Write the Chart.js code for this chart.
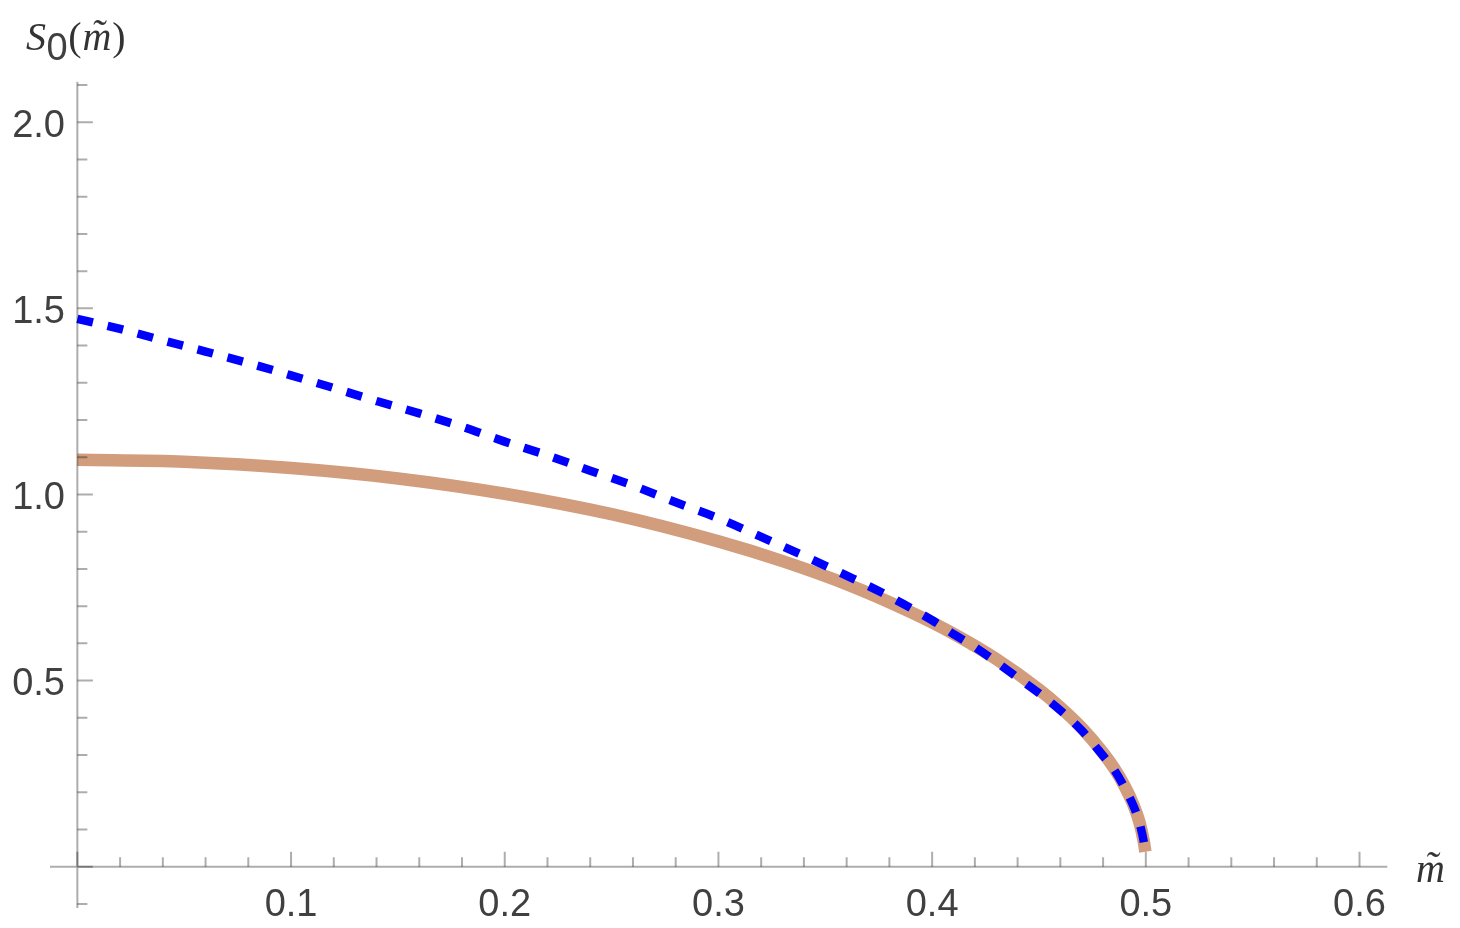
<!DOCTYPE html>
<html>
<head>
<meta charset="utf-8">
<script src="https://cdn.jsdelivr.net/npm/chart.js@4/dist/chart.umd.min.js"></script>
<style>
  html, body { margin: 0; padding: 0; background: #ffffff; }
  #wrap { width: 1460px; height: 928px; }
</style>
</head>
<body>
<div id="wrap"><canvas id="c" width="1460" height="928"></canvas></div>
<script>
// ---- data ----
const mOrange = [0, 0.05, 0.1, 0.15, 0.2, 0.25, 0.3, 0.33, 0.36, 0.39, 0.41, 0.43, 0.45, 0.46, 0.47, 0.48, 0.485, 0.49, 0.494, 0.497, 0.499, 0.4998];
const sOrange = [1.093, 1.088, 1.071, 1.043, 1.002, 0.947, 0.874, 0.821, 0.759, 0.684, 0.626, 0.558, 0.476, 0.428, 0.373, 0.306, 0.266, 0.2175, 0.169, 0.120, 0.069, 0.04];

const mBlue = [0, 0.02, 0.04, 0.06, 0.08, 0.10, 0.12, 0.14, 0.16, 0.18, 0.20, 0.22, 0.24, 0.26, 0.28, 0.30, 0.32, 0.34, 0.36, 0.38, 0.40, 0.41, 0.42, 0.43, 0.44, 0.45, 0.46, 0.47, 0.48, 0.485, 0.49, 0.494, 0.497, 0.499, 0.4998];
const sBlue = [1.472, 1.445, 1.414, 1.384, 1.353, 1.320, 1.286, 1.251, 1.218, 1.182, 1.142, 1.105, 1.064, 1.024, 0.979, 0.936, 0.886, 0.835, 0.782, 0.726, 0.662, 0.625, 0.59, 0.55, 0.508, 0.466, 0.42, 0.366, 0.298, 0.262, 0.213, 0.166, 0.118, 0.068, 0.035];

const xMajorTicks = [0.1, 0.2, 0.3, 0.4, 0.5, 0.6];
const xTickLabels = ["0.1", "0.2", "0.3", "0.4", "0.5", "0.6"];
const yMajorTicks = [0.5, 1.0, 1.5, 2.0];
const yTickLabels = ["0.5", "1.0", "1.5", "2.0"];
const xMinorTicks = [0.02,0.04,0.06,0.08,0.12,0.14,0.16,0.18,0.22,0.24,0.26,0.28,0.32,0.34,0.36,0.38,0.42,0.44,0.46,0.48,0.52,0.54,0.56,0.58];
const yMinorTicks = [-0.1,0.1,0.2,0.3,0.4,0.6,0.7,0.8,0.9,1.1,1.2,1.3,1.4,1.6,1.7,1.8,1.9,2.1];

const toPts = (xs, ys) => xs.map((x, i) => ({ x: x, y: ys[i] }));

const AXIS_COLOR = 'rgba(0,0,0,0.32)';
const LABEL_COLOR = '#404040';

const mmaAxes = {
  id: 'mmaAxes',
  afterDatasetsDraw(chart) {
    const ctx = chart.ctx;
    const xs = chart.scales.x, ys = chart.scales.y;
    const x0 = xs.getPixelForValue(0), y0 = ys.getPixelForValue(0);
    ctx.save();
    ctx.strokeStyle = AXIS_COLOR;
    ctx.lineWidth = 2;
    ctx.lineCap = 'butt';
    // axis lines
    ctx.beginPath();
    ctx.moveTo(xs.left, y0); ctx.lineTo(xs.right, y0);
    ctx.moveTo(x0, ys.top); ctx.lineTo(x0, ys.bottom);
    ctx.stroke();
    // x ticks (pointing up)
    ctx.beginPath();
    [0].concat(xMajorTicks).forEach(v => { const p = xs.getPixelForValue(v); ctx.moveTo(p, y0); ctx.lineTo(p, y0 - 15); });
    xMinorTicks.forEach(v => { const p = xs.getPixelForValue(v); ctx.moveTo(p, y0); ctx.lineTo(p, y0 - 9.5); });
    // y ticks (pointing right)
    [0].concat(yMajorTicks).forEach(v => { const p = ys.getPixelForValue(v); ctx.moveTo(x0, p); ctx.lineTo(x0 + 15.5, p); });
    yMinorTicks.forEach(v => { const p = ys.getPixelForValue(v); ctx.moveTo(x0, p); ctx.lineTo(x0 + 10, p); });
    ctx.stroke();
    // tick labels
    ctx.fillStyle = LABEL_COLOR;
    ctx.font = '38px "Liberation Sans", Arial, sans-serif';
    ctx.textBaseline = 'alphabetic';
    ctx.textAlign = 'center';
    xMajorTicks.forEach((v, i) => { ctx.fillText(xTickLabels[i], xs.getPixelForValue(v), y0 + 49.5); });
    ctx.textAlign = 'right';
    yMajorTicks.forEach((v, i) => { ctx.fillText(yTickLabels[i], 65, ys.getPixelForValue(v) + 14.5); });

    // y-axis label  S_0(m~)
    ctx.textAlign = 'left';
    ctx.fillStyle = '#333333';
    const serifI = 'italic 40px "Liberation Serif", "DejaVu Serif", serif';
    const serif = '40px "Liberation Serif", "DejaVu Serif", serif';
    const sans = '38px "Liberation Sans", Arial, sans-serif';
    let bx = 26, by = 50;
    ctx.font = serifI; ctx.fillText('S', bx, by); bx += ctx.measureText('S').width + 0.5;
    ctx.font = sans; ctx.fillStyle = '#404040'; ctx.fillText('0', bx, by + 10); bx += ctx.measureText('0').width + 0.5;
    ctx.fillStyle = '#333333';
    ctx.font = serif; ctx.fillText('(', bx, by); bx += ctx.measureText('(').width + 1;
    ctx.font = serifI; const mw = ctx.measureText('m').width;
    ctx.fillText('m', bx, by);
    ctx.fillText('\u02DC', bx + mw / 2 - 6, by - 3);
    bx += mw + 1;
    ctx.font = serif; ctx.fillText(')', bx, by);

    // x-axis label m~
    ctx.font = serifI;
    const lx = 1416, ly = 882;
    ctx.fillText('m', lx, ly);
    ctx.fillText('\u02DC', lx + mw / 2 - 6, ly - 3);
    ctx.restore();
  }
};

new Chart(document.getElementById('c'), {
  type: 'line',
  data: {
    datasets: [
      {
        label: 'blue',
        data: toPts(mBlue, sBlue),
        borderColor: '#0000ff',
        borderWidth: 8.5,
        borderDash: [16, 15],
        borderCapStyle: 'butt',
        pointRadius: 0,
        fill: false,
        cubicInterpolationMode: 'monotone'
      },
      {
        label: 'orange',
        data: toPts(mOrange, sOrange),
        borderColor: 'rgb(209,157,125)',
        borderWidth: 12.5,
        borderCapStyle: 'butt',
        pointRadius: 0,
        fill: false,
        cubicInterpolationMode: 'monotone'
      }
    ]
  },
  options: {
    responsive: false,
    devicePixelRatio: 1,
    animation: false,
    layout: { padding: { left: 50, right: 72.7, top: 81.7, bottom: 20 } },
    plugins: { legend: { display: false }, tooltip: { enabled: false } },
    scales: {
      x: { type: 'linear', min: -0.0128, max: 0.613, display: false },
      y: { type: 'linear', min: -0.111, max: 2.109, display: false }
    }
  },
  plugins: [mmaAxes]
});
</script>
</body>
</html>
